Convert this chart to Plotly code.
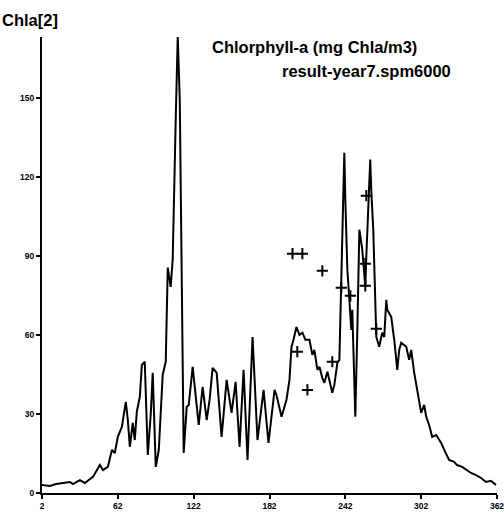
import plotly.graph_objects as go

# Simulated Chlorophyll-a (mg Chla/m3) by day of year
days = [2, 8.3, 13.1, 18.6, 24.1, 26.5, 32, 35.9, 42.3, 47.8, 50.2, 54.1, 57.3, 59.6, 62, 65.2,
        68.3, 69.9, 71.5, 73.8, 75.4, 77, 79.4, 81, 83.3, 85.7, 88.1, 89.6, 92, 94.4, 97.5, 99.9,
        100.7, 101.5, 103.8, 105.4, 107.8, 109.4, 111, 112.5, 114.1, 116.5, 118.1, 121.2, 123.6,
        126, 129.1, 132.3, 134.6, 137, 140.2, 144.1, 148.1, 152, 155.2, 158.3, 161.5, 164.6,
        168.6, 172.5, 177.3, 181.2, 186, 187.5, 191.5, 195.4, 197.8, 199.4, 201, 203.3, 205.7,
        208.1, 210.4, 213.6, 215.9, 217.5, 219.9, 221.5, 223.8, 225.4, 227.8, 229.4, 231.7,
        233.3, 235.7, 237.3, 238.9, 240.4, 241.2, 242, 243.6, 245.2, 246.7, 247.5, 248.3, 249.9,
        251.5, 253.1, 255.4, 257.8, 258.6, 260.2, 261.7, 262.5, 264.1, 266.5, 268.8, 271.2,
        272.8, 274.4, 275.2, 278.3, 280.7, 283.1, 284.6, 286.2, 290.2, 292.5, 294.1, 296.5,
        298.8, 302, 304.4, 306, 308.3, 310.7, 313.9, 317.8, 321, 324.1, 328.1, 330.4, 334.4,
        338.3, 341.5, 345.4, 349.4, 353.3, 357.3, 361.2]
chla = [3.0, 2.7, 3.4, 3.8, 4.2, 3.4, 4.9, 3.8, 6.1, 10.6, 8.7, 9.9, 16.3, 15.2, 21.3, 25.1,
        34.6, 27.7, 17.5, 26.6, 20.1, 30.8, 36.5, 48.6, 49.8, 14.4, 30.4, 45.6, 9.9, 16.3, 44.8, 49.8,
        65.7, 85.5, 78.2, 88.5, 141.7, 173.2, 149.3, 85.8, 15.2, 32.7, 33.4, 47.9, 35.3,
        25.8, 40.3, 27.7, 35.3, 47.5, 45.6, 21.3, 42.9, 30.4, 42.2, 17.5, 46.7, 12.5,
        59.2, 20.1, 39.1, 19.0, 39.1, 37.2, 28.9, 35.3, 42.9, 55.5, 58.1, 63.0, 60.0,
        60.8, 58.1, 58.1, 52.4, 54.3, 46.7, 47.9, 43.7, 41.8, 46.0, 42.9, 38.0,
        41.0, 49.4, 50.5, 87.4, 111.3, 129.1, 111.3, 84.7, 73.3, 61.9, 69.5, 54.3, 28.9,
        61.9, 99.9, 92.3, 78.2, 89.6, 107.5, 126.5, 115.1, 99.9, 59.2, 55.5, 60.8,
        59.2, 73.3, 69.5, 66.8, 58.1, 46.7, 54.3, 57.0, 55.5, 50.5, 54.3, 45.6,
        39.1, 30.4, 33.4, 28.9, 25.8, 21.3, 22.0, 19.0, 15.6, 12.5, 11.8, 10.6, 9.9,
        8.7, 7.6, 6.8, 5.7, 4.2, 4.6, 3.0]

# Observations
obs_days = [200.2, 208, 223.8, 204, 212, 231.7, 238.8, 246, 258.6, 257.8, 257.8, 266.5]
obs_chla = [90.8, 90.8, 84.3, 53.6, 39.1, 49.8, 77.9, 74.8, 112.8, 87.0, 78.6, 62.3]

x_ticks = [2, 62, 122, 182, 242, 302, 362]
y_ticks = [0, 30, 60, 90, 120, 150]

fig = go.Figure()
fig.add_trace(go.Scatter(x=days, y=chla, mode="lines",
                         line=dict(color="black", width=2), showlegend=False))
fig.add_trace(go.Scatter(x=obs_days, y=obs_chla, mode="markers",
                         marker=dict(symbol="cross-thin", size=8,
                                     line=dict(color="black", width=2)),
                         showlegend=False))

font_family = "Liberation Sans, Arial, sans-serif"
fig.update_layout(
    width=504, height=514,
    margin=dict(l=42, r=7, t=37, b=21, autoexpand=False),
    paper_bgcolor="white", plot_bgcolor="white",
    font=dict(family=font_family, color="black"),
    xaxis=dict(range=[2, 362], tickvals=x_ticks, ticktext=[str(v) for v in x_ticks],
               showgrid=False, zeroline=False, showline=True, linecolor="black",
               linewidth=2, ticks="outside", ticklen=4, tickwidth=2, tickcolor="black",
               tickfont=dict(size=8.5, family=font_family, weight="bold"),
               ticklabeloverflow="allow", automargin=False),
    yaxis=dict(range=[0, 173], tickvals=y_ticks, ticktext=[str(v) for v in y_ticks],
               showgrid=False, zeroline=False, showline=True, linecolor="black",
               linewidth=2, ticks="outside", ticklen=4, tickwidth=2, tickcolor="black",
               tickfont=dict(size=8.5, family=font_family, weight="bold"),
               ticklabeloverflow="allow", automargin=False),
    annotations=[
        dict(text="<b>Chla[2]</b>", xref="paper", yref="paper", x=-42/455, y=1 + 17/456,
             xanchor="left", yanchor="middle", showarrow=False,
             font=dict(size=16.5, family=font_family)),
        dict(text="<b>Chlorphyll-a (mg Chla/m3)</b>", xref="paper", yref="paper",
             x=(210-42)/455, y=1 - (47-37)/456, xanchor="left", yanchor="middle",
             showarrow=False, font=dict(size=16.5, family=font_family)),
        dict(text="<b>result-year7.spm6000</b>", xref="paper", yref="paper",
             x=(453-42)/455, y=1 - (71-37)/456, xanchor="right", yanchor="middle",
             showarrow=False, font=dict(size=16.5, family=font_family)),
    ],
)

fig.write_html("out.html")
